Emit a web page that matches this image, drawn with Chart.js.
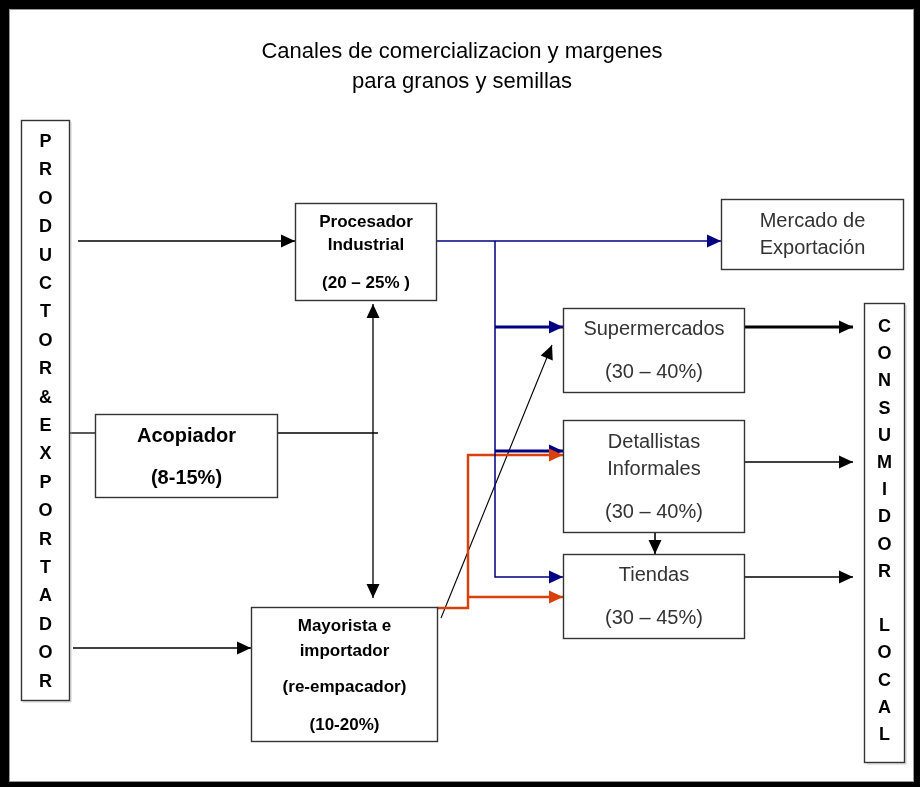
<!DOCTYPE html>
<html>
<head>
<meta charset="utf-8">
<script src="https://cdn.jsdelivr.net/npm/chart.js@4"></script>
<style>
  body { margin: 0; background: #fff; }
  canvas { display: block; }
</style>
</head>
<body>
<canvas id="myChart" width="920" height="787"></canvas>
<script>
// Content of the diagram
var titleLines = ["Canales de comercializacion y margenes", "para granos y semillas"];
var nodeNames = [
  ["Procesador", "Industrial"],
  ["Mercado de", "Exportación"],
  ["Supermercados"],
  ["Detallistas", "Informales"],
  ["Tiendas"],
  ["Acopiador"],
  ["Mayorista e", "importador", "(re-empacador)"]
];
var nodeMargins = ["(20 – 25% )", "", "(30 – 40%)", "(30 – 40%)", "(30 – 45%)", "(8-15%)", "(10-20%)"];
var sideLabels = ["PRODUCTOR&EXPORTADOR", "CONSUMIDOR LOCAL"];

// Layout (chart units: x 0..920, y 0..787 top-down)
var FONT = "'Liberation Sans', Arial, sans-serif";
var boxLayout = [
  { x0: 295, y0: 203, x1: 436, y1: 300, font: "bold 17px " + FONT, color: "#000", ys: [222, 245, 283] },
  { x0: 721, y0: 199, x1: 903, y1: 269, font: "20px " + FONT, color: "#333", ys: [221, 248] },
  { x0: 563, y0: 308, x1: 744, y1: 392, font: "20px " + FONT, color: "#333", ys: [329, 372] },
  { x0: 563, y0: 420, x1: 744, y1: 532, font: "20px " + FONT, color: "#333", ys: [442, 469, 512] },
  { x0: 563, y0: 554, x1: 744, y1: 638, font: "20px " + FONT, color: "#333", ys: [575, 618] },
  { x0: 95, y0: 414, x1: 277, y1: 497, font: "bold 20px " + FONT, color: "#000", ys: [436, 478] },
  { x0: 251, y0: 607, x1: 437, y1: 741, font: "bold 17px " + FONT, color: "#000", ys: [626, 651, 687, 725] }
];
var sideLayout = [
  { x0: 21, y0: 120, x1: 69, y1: 700, first: 142, step: 28.4 },
  { x0: 864, y0: 303, x1: 904, y1: 762, first: 327, step: 27.2 }
];

var NAVY = "#000080", RED = "#d8400c", BLACK = "#000";
var connectors = [
  { pts: [[78, 241], [295, 241]], color: BLACK, w: 1.5, arrow: "end" },
  { pts: [[436, 241], [721, 241]], color: NAVY, w: 1.5, arrow: "end" },
  { pts: [[495, 241], [495, 577], [563, 577]], color: NAVY, w: 1.5, arrow: "end" },
  { pts: [[495, 327], [563, 327]], color: NAVY, w: 3, arrow: "end" },
  { pts: [[495, 451], [563, 451]], color: NAVY, w: 3, arrow: "end" },
  { pts: [[69, 433], [95, 433]], color: BLACK, w: 1.3, arrow: "none" },
  { pts: [[277, 433], [378, 433]], color: BLACK, w: 1.3, arrow: "none" },
  { pts: [[373, 304], [373, 598]], color: BLACK, w: 1.3, arrow: "both" },
  { pts: [[73, 648], [251, 648]], color: BLACK, w: 1.5, arrow: "end" },
  { pts: [[437, 608], [468, 608], [468, 455], [563, 455]], color: RED, w: 2.5, arrow: "end" },
  { pts: [[468, 597], [563, 597]], color: RED, w: 2.5, arrow: "end" },
  { pts: [[441, 618], [552, 345]], color: BLACK, w: 1.1, arrow: "end" },
  { pts: [[744, 327], [853, 327]], color: BLACK, w: 3, arrow: "end" },
  { pts: [[744, 462], [853, 462]], color: BLACK, w: 1.6, arrow: "end" },
  { pts: [[744, 577], [853, 577]], color: BLACK, w: 1.6, arrow: "end" },
  { pts: [[655, 532], [655, 554]], color: BLACK, w: 1.6, arrow: "end" }
];

var datasets = [];
for (var i = 0; i < connectors.length; i++) {
  var c = connectors[i];
  datasets.push({
    data: c.pts.map(function (p) { return { x: p[0], y: p[1] }; }),
    showLine: true,
    borderColor: c.color,
    borderWidth: c.w,
    pointRadius: 0,
    tension: 0,
    arrow: c.arrow
  });
}

function arrowHead(ctx, xs, ys, a, b, color) {
  var x1 = xs.getPixelForValue(a.x), y1 = ys.getPixelForValue(a.y);
  var x2 = xs.getPixelForValue(b.x), y2 = ys.getPixelForValue(b.y);
  var ang = Math.atan2(y2 - y1, x2 - x1);
  var len = 14, half = 6.5;
  ctx.save();
  ctx.translate(x2, y2);
  ctx.rotate(ang);
  ctx.beginPath();
  ctx.moveTo(0, 0);
  ctx.lineTo(-len, -half);
  ctx.lineTo(-len, half);
  ctx.closePath();
  ctx.fillStyle = color;
  ctx.fill();
  ctx.restore();
}

var diagramPlugin = {
  id: "diagram",
  beforeDatasetsDraw: function (chart) {
    var ctx = chart.ctx, xs = chart.scales.x, ys = chart.scales.y;
    ctx.save();
    // outer frame
    ctx.fillStyle = "#000";
    ctx.fillRect(0, 0, chart.width, chart.height);
    ctx.fillStyle = "#fff";
    ctx.fillRect(xs.getPixelForValue(9), ys.getPixelForValue(9),
      xs.getPixelForValue(914) - xs.getPixelForValue(9), ys.getPixelForValue(782) - ys.getPixelForValue(9));
    ctx.strokeStyle = "#999";
    ctx.lineWidth = 1;
    ctx.strokeRect(xs.getPixelForValue(9) + 0.5, ys.getPixelForValue(9) + 0.5,
      xs.getPixelForValue(914) - xs.getPixelForValue(9) - 1, ys.getPixelForValue(782) - ys.getPixelForValue(9) - 1);
    // title
    ctx.fillStyle = "#000";
    ctx.font = "22px " + FONT;
    ctx.textAlign = "center";
    ctx.textBaseline = "middle";
    ctx.fillText(titleLines[0], xs.getPixelForValue(462), ys.getPixelForValue(52));
    ctx.fillText(titleLines[1], xs.getPixelForValue(462), ys.getPixelForValue(82));
    ctx.restore();
  },
  afterDatasetsDraw: function (chart) {
    var ctx = chart.ctx, xs = chart.scales.x, ys = chart.scales.y;
    ctx.save();
    // arrowheads
    chart.data.datasets.forEach(function (ds) {
      var d = ds.data, n = d.length;
      if (ds.arrow === "end" || ds.arrow === "both") arrowHead(ctx, xs, ys, d[n - 2], d[n - 1], ds.borderColor);
      if (ds.arrow === "both") arrowHead(ctx, xs, ys, d[1], d[0], ds.borderColor);
    });
    // boxes
    ctx.textAlign = "center";
    ctx.textBaseline = "middle";
    for (var b = 0; b < boxLayout.length; b++) {
      var L = boxLayout[b];
      var px0 = Math.round(xs.getPixelForValue(L.x0)) + 0.5, py0 = Math.round(ys.getPixelForValue(L.y0)) + 0.5;
      var px1 = Math.round(xs.getPixelForValue(L.x1)) + 0.5, py1 = Math.round(ys.getPixelForValue(L.y1)) + 0.5;
      ctx.fillStyle = "#fff";
      ctx.fillRect(px0, py0, px1 - px0, py1 - py0);
      ctx.strokeStyle = "#333";
      ctx.lineWidth = 1.4;
      ctx.strokeRect(px0, py0, px1 - px0, py1 - py0);
      var lines = nodeNames[b].slice();
      if (nodeMargins[b]) lines.push(nodeMargins[b]);
      ctx.font = L.font;
      ctx.fillStyle = L.color;
      var cx = (px0 + px1) / 2;
      for (var k = 0; k < lines.length; k++) {
        ctx.fillText(lines[k], cx, ys.getPixelForValue(L.ys[k]));
      }
    }
    // side columns
    ctx.font = "bold 18px " + FONT;
    for (var s = 0; s < sideLayout.length; s++) {
      var S = sideLayout[s];
      var sx0 = Math.round(xs.getPixelForValue(S.x0)) + 0.5, sy0 = Math.round(ys.getPixelForValue(S.y0)) + 0.5;
      var sx1 = Math.round(xs.getPixelForValue(S.x1)) + 0.5, sy1 = Math.round(ys.getPixelForValue(S.y1)) + 0.5;
      ctx.fillStyle = "#fff";
      ctx.fillRect(sx0, sy0, sx1 - sx0, sy1 - sy0);
      // dotted shadow
      ctx.strokeStyle = "#999";
      ctx.lineWidth = 1;
      ctx.setLineDash([1, 1]);
      ctx.beginPath();
      ctx.moveTo(sx1 + 1.5, sy0 + 2);
      ctx.lineTo(sx1 + 1.5, sy1 + 1.5);
      ctx.lineTo(sx0 + 2, sy1 + 1.5);
      ctx.stroke();
      ctx.setLineDash([]);
      ctx.strokeStyle = "#333";
      ctx.lineWidth = 1.4;
      ctx.strokeRect(sx0, sy0, sx1 - sx0, sy1 - sy0);
      ctx.fillStyle = "#000";
      var word = sideLabels[s];
      for (var j = 0; j < word.length; j++) {
        if (word[j] === " ") continue;
        ctx.fillText(word[j], (sx0 + sx1) / 2, ys.getPixelForValue(S.first + j * S.step));
      }
    }
    ctx.restore();
  }
};

var ctx = document.getElementById("myChart").getContext("2d");
var myChart = new Chart(ctx, {
  type: "scatter",
  data: { datasets: datasets },
  options: {
    responsive: false,
    animation: false,
    layout: { padding: 0 },
    plugins: { legend: { display: false }, tooltip: { enabled: false } },
    scales: {
      x: { type: "linear", min: 0, max: 920, display: false },
      y: { type: "linear", min: 0, max: 787, reverse: true, display: false }
    }
  },
  plugins: [diagramPlugin]
});
</script>
</body>
</html>
